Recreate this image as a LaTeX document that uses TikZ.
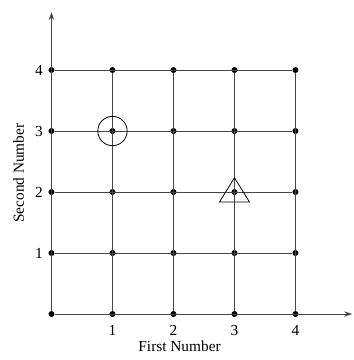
\documentclass[tikz,border=0pt]{standalone}
\usepackage{fontspec}
\setmainfont{Liberation Serif}
\usepackage{tikz}
\usetikzlibrary{arrows.meta,positioning,calc}
\definecolor{gridgray}{RGB}{70,70,70}
\tikzset{
  dot/.style={circle,fill=black,inner sep=0pt,minimum size=4.5pt},
  gridline/.style={draw=gridgray,line width=0.65pt},
  axisline/.style={draw=gridgray,line width=0.65pt,-{Stealth[length=6pt,width=4pt]}},
  ticklab/.style={font=\fontsize{11.5}{13}\selectfont,inner sep=0pt},
  axislab/.style={font=\fontsize{11.5}{13}\selectfont,inner sep=0pt},
}
\begin{document}
\begin{tikzpicture}[x=45.75pt,y=45.75pt]
    \useasboundingbox (-0.844,-0.754) rectangle (4.959,5.148);

    %────────── POINTS ─────────────
    \foreach \i in {0,...,4}
      \foreach \j in {0,...,4}
        \node[dot] (p-\i-\j) at (\i,\j) {};

    %────────── AXES ───────────────
    \coordinate (xend) at (4.93,0);
    \coordinate (yend) at (0,4.95);
    \draw[axisline] (p-0-0) -- (xend);
    \draw[axisline] (p-0-0) -- (yend);

    %────────── GRID ───────────────
    \foreach \k in {1,...,4} {
      \draw[gridline] (p-0-\k) -- (p-4-\k);
      \draw[gridline] (p-\k-0) -- (p-\k-4);
    }

    %────────── TICK LABELS ────────
    \foreach \k in {1,...,4} {
      \node[ticklab,anchor=east] (ylab-\k) at ($(p-0-\k)+(-0.14,0)$) {\k};
      \node[ticklab] (xlab-\k) at ($(p-\k-0)+(0,-0.27)$) {\k};
    }

    %────────── AXIS TITLES ────────
    \node[axislab,anchor=base] (xtitle) at (2.1,-0.62) {First Number};
    \node[axislab,rotate=90] (ytitle) at (-0.54,2.31) {Second Number};

    %────────── MARKERS ────────────
    \node[draw,circle,line width=0.6pt,inner sep=0pt,minimum size=22pt] (circmark) at (p-1-3) {};
    \draw[line width=0.6pt] ($(p-3-2)+(-0.246,-0.164)$) -- ($(p-3-2)+(0.246,-0.164)$)
      -- ($(p-3-2)+(0,0.234)$) -- cycle;
  \end{tikzpicture}
\end{document}
